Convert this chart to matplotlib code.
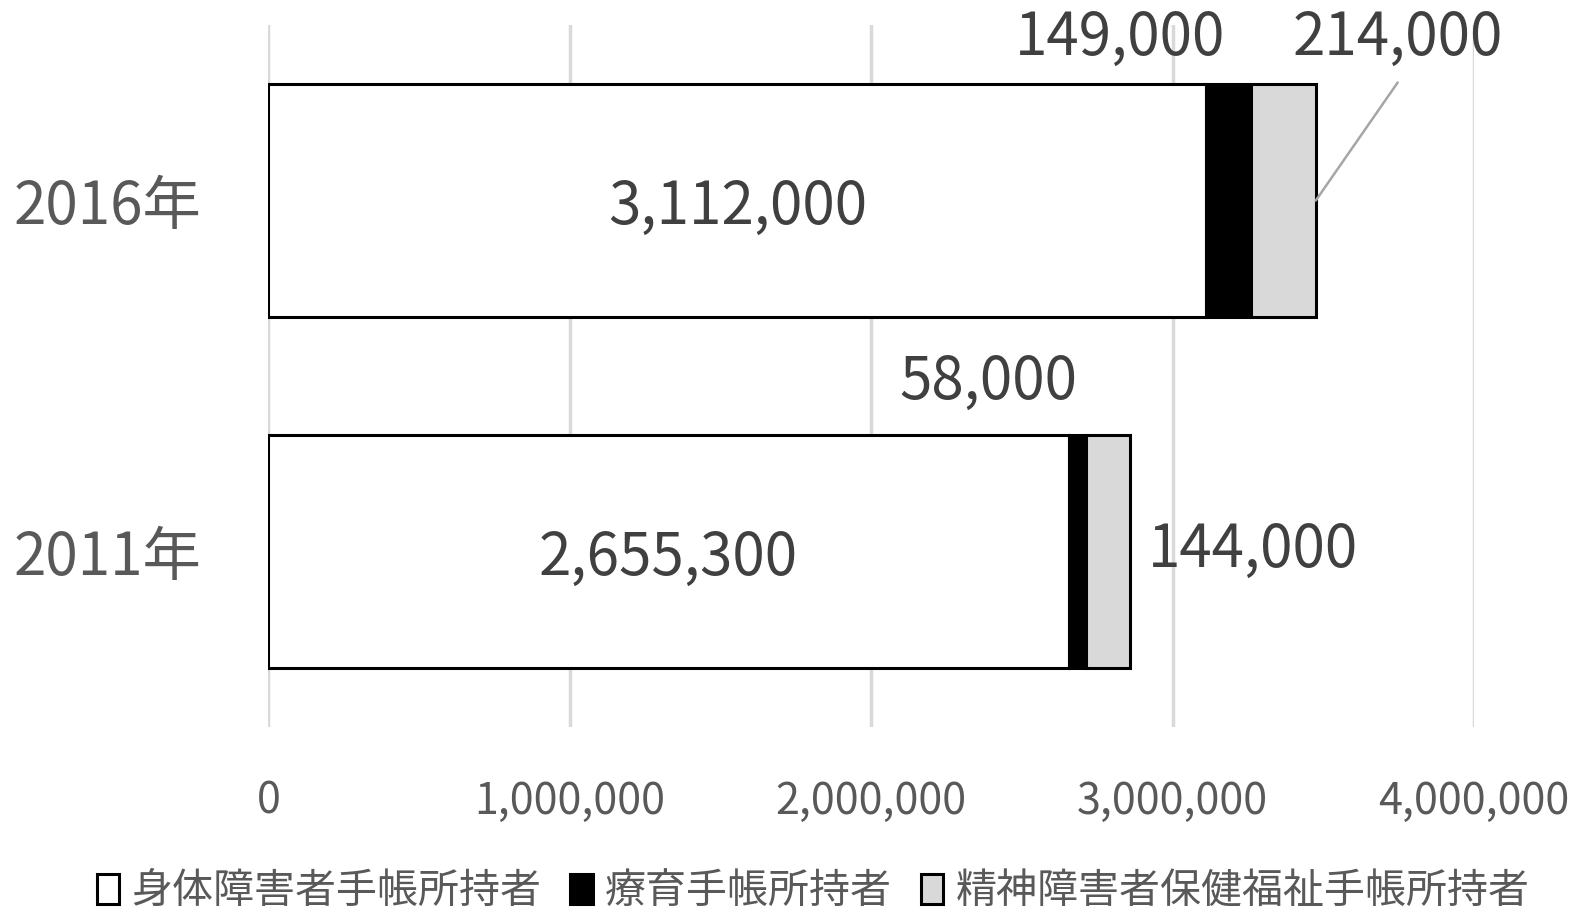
import matplotlib
matplotlib.use("Agg")
import matplotlib.pyplot as plt
from matplotlib.ticker import FuncFormatter

plt.rcParams["font.family"] = ["Noto Sans CJK JP", "DejaVu Sans"]

years = ["2011年", "2016年"]
physical = [2655300, 3112000]
ryoiku = [58000, 149000]
mental = [144000, 214000]
series_names = ["身体障害者手帳所持者", "療育手帳所持者", "精神障害者保健福祉手帳所持者"]
colors = ["#ffffff", "#000000", "#d9d9d9"]

text_dark = "#404040"
text_grey = "#595959"

fig = plt.figure(figsize=(15.79, 9.10), dpi=100)
ax = fig.add_axes([0.170, 0.201, 0.7635, 0.7715])

ypos = list(range(len(years)))
left = [0] * len(years)
for vals, name, col in zip([physical, ryoiku, mental], series_names, colors):
    ax.barh(ypos, vals, left=left, height=0.665, color=col,
            edgecolor="black", linewidth=2.2, label=name, zorder=3)
    left = [l + v for l, v in zip(left, vals)]

ax.set_xlim(0, 4000000)
ax.set_ylim(-0.5, 1.5)
ax.set_xticks(range(0, 4000001, 1000000))
ax.xaxis.set_major_formatter(FuncFormatter(lambda v, p: f"{int(v):,}"))
ax.set_yticks(ypos)
ax.set_yticklabels(years)
ax.tick_params(axis="x", length=0, pad=38, labelsize=31, labelcolor=text_grey)
ax.tick_params(axis="y", length=0, pad=48, labelsize=42, labelcolor=text_grey)
ax.grid(axis="x", color="#d9d9d9", linewidth=2.5, zorder=0)
for s in ax.spines.values():
    s.set_visible(False)

fmt = lambda v: f"{v:,}"
lbl = dict(fontsize=42, color=text_dark, ha="center", va="center", zorder=5)

# values inside the white segments
for i in ypos:
    ax.annotate(fmt(physical[i]), xy=(physical[i] / 2, i), xytext=(0, -5),
                textcoords="offset points", **lbl)

# 2016 small segments: labels above the bar
top = 1
ax.annotate(fmt(ryoiku[top]), xy=(physical[top] + ryoiku[top] / 2, top),
            xytext=(-78, 117), textcoords="offset points", **lbl)
bar_end = physical[top] + ryoiku[top] + mental[top]
ax.annotate(fmt(mental[top]), xy=(bar_end, top),
            xytext=(59, 117), textcoords="offset points", **lbl)
# leader line from the bar end up to the label
ax.annotate("", xy=(bar_end, top), xytext=(59, 85), textcoords="offset points",
            arrowprops=dict(arrowstyle="-", color="#a6a6a6", lw=1.8,
                            shrinkA=0, shrinkB=0), zorder=5)

# 2011 small segments
bot = 0
ax.annotate(fmt(ryoiku[bot]), xy=(physical[bot] + ryoiku[bot] / 2, bot),
            xytext=(-64, 122), textcoords="offset points", **lbl)
ax.annotate(fmt(mental[bot]), xy=(physical[bot] + ryoiku[bot] + mental[bot], bot),
            xytext=(13, 1), textcoords="offset points",
            fontsize=42, color=text_dark, ha="left", va="center", zorder=5)

leg = fig.legend(loc="lower center", bbox_to_anchor=(0.515, -0.043), ncol=3,
                 frameon=False, fontsize=29.5, handlelength=0.55, handleheight=0.75,
                 handletextpad=0.3, columnspacing=0.7)
for t in leg.get_texts():
    t.set_color(text_grey)

fig.savefig("out.png", dpi=100)
